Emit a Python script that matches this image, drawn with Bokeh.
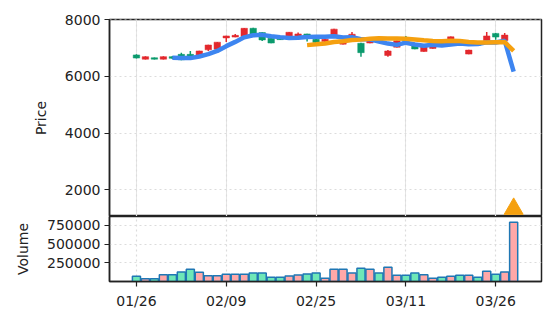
import pandas as pd
from bokeh.plotting import figure
from bokeh.layouts import column
from bokeh.models import (ColumnDataSource, Range1d, FixedTicker, NumeralTickFormatter,
                          Grid, CustomJSTickFormatter)
from bokeh.embed import file_html
from bokeh.resources import INLINE

# ---- data ----
tick_idx = [0, 10, 20, 30, 40]
tick_labels = ["01/26", "02/09", "02/25", "03/11", "03/26"]

opens = [6760, 6610, 6660, 6610, 6700, 6780, 6780, 6720, 6940, 6960,
         7360, 7390, 7410, 7700, 7550, 7350, 7380, 7390, 7410, 7500,
         7310, 7230, 7470, 7140, 7410, 7170, 7180, 7350, 6740, 7030,
         7350, 7150, 6880, 6990, 7200, 7270, 7230, 6790, 7130, 7270,
         7520, 7270, 1420]
highs = [6780, 6710, 6670, 6710, 6720, 6840, 6900, 6910, 7120, 7220,
         7440, 7500, 7710, 7720, 7560, 7360, 7390, 7570, 7550, 7510,
         7320, 7320, 7680, 7270, 7570, 7190, 7300, 7360, 6930, 7270,
         7430, 7160, 7060, 7080, 7210, 7410, 7240, 6940, 7210, 7570,
         7530, 7530, 1500]
lows = [6630, 6600, 6600, 6600, 6620, 6570, 6690, 6710, 6900, 6950,
        7220, 7380, 7400, 7460, 7250, 7170, 7290, 7380, 7400, 7230,
        7190, 7220, 7460, 7130, 7400, 6700, 7170, 7270, 6700, 7020,
        7220, 6960, 6870, 6980, 7120, 7260, 7140, 6780, 7120, 7260,
        7300, 7260, 1380]
closes = [6650, 6700, 6610, 6700, 6640, 6590, 6700, 6900, 7110, 7210,
          7430, 7450, 7700, 7470, 7290, 7180, 7300, 7560, 7500, 7430,
          7200, 7310, 7670, 7260, 7490, 6840, 7290, 7280, 6900, 7260,
          7230, 6970, 7050, 7070, 7130, 7400, 7150, 6930, 7100, 7430,
          7390, 7460, 1460]
volumes = [70000, 38000, 38000, 91000, 91000, 127000, 163000, 124000, 78000, 78000,
           96000, 96000, 96000, 114000, 114000, 56000, 56000, 74000, 87000, 100000,
           114000, 43000, 163000, 163000, 114000, 177000, 163000, 114000, 190000, 83000,
           83000, 114000, 91000, 43000, 56000, 70000, 83000, 83000, 56000, 137000,
           96000, 127000, 794000]
signal_idx = [42]
signal_price = [1330]

UP = "#e3282d"
DOWN = "#0b9a6d"
VUP = "#ffa8a8"
VDOWN = "#6ee7b7"
FONT = "DejaVu Sans"
FS = "14px"

n = len(closes)
df = pd.DataFrame({"i": list(range(n)), "open": opens, "high": highs, "low": lows,
                   "close": closes, "volume": volumes})
df["top"] = df[["open", "close"]].max(axis=1)
df["bottom"] = df[["open", "close"]].min(axis=1)
df["color"] = [UP if c >= o else DOWN for o, c in zip(opens, closes)]
df["vcolor"] = [VUP if c >= o else VDOWN for o, c in zip(opens, closes)]
df["ma5"] = df["close"].rolling(5).mean()
df["ma20"] = df["close"].rolling(20).mean()
src = ColumnDataSource(df)

xr = Range1d(-3.0, 45.1)

def style(p):
    p.outline_line_color = "#222222"
    p.outline_line_width = 1.5
    p.background_fill_color = "white"
    p.border_fill_color = "white"
    for ax in p.yaxis:
        ax.axis_line_color = "#222222"
        ax.axis_line_width = 1.5
        ax.major_tick_line_color = "#222222"
        ax.major_tick_line_width = 1.2
        ax.major_tick_out = 5
        ax.major_tick_in = 0
        ax.minor_tick_line_color = None
        ax.major_label_text_font = FONT
        ax.major_label_text_font_size = FS
        ax.major_label_text_color = "#222222"
        ax.axis_label_text_font = FONT
        ax.axis_label_text_font_size = FS
        ax.axis_label_text_font_style = "normal"
        ax.axis_label_text_color = "#222222"
        ax.major_label_standoff = 4
        ax.axis_label_standoff = 13

grid_kw = dict(grid_line_color="#dcdcdc", grid_line_dash="2 3", grid_line_width=1.2)

# ---- price panel ----
p1 = figure(width=556, height=216, x_range=xr, y_range=Range1d(1060, 8010),
            output_backend="svg", toolbar_location=None, x_axis_location=None,
            min_border_left=109, min_border_right=15, min_border_top=19, min_border_bottom=0)
style(p1)
p1.yaxis.ticker = FixedTicker(ticks=[2000, 4000, 6000, 8000])
p1.yaxis.formatter = NumeralTickFormatter(format="0")
p1.yaxis.axis_label = "Price"
for g in p1.ygrid:
    g.update(**grid_kw)
p1.add_layout(Grid(dimension=0, ticker=FixedTicker(ticks=tick_idx), **grid_kw))

p1.segment(x0="i", y0="low", x1="i", y1="high", color="color", line_width=1.5, source=src)
p1.vbar(x="i", top="top", bottom="bottom", width=0.72, fill_color="color",
        line_color="color", line_width=0.5, source=src)
p1.line(x="i", y="ma5", color="#3d85f0", line_width=4.5, source=src)
p1.line(x="i", y="ma20", color="#f5a00f", line_width=4.5, source=src)
p1.scatter(x=signal_idx, y=signal_price, marker="triangle", size=19,
           fill_color="#f5a00f", line_color="#f5a00f")

# ---- volume panel ----
p2 = figure(width=556, height=110, x_range=xr, y_range=Range1d(0, 870000),
            output_backend="svg", toolbar_location=None,
            min_border_left=109, min_border_right=15, min_border_top=0, min_border_bottom=45)
style(p2)
p2.yaxis.ticker = FixedTicker(ticks=[250000, 500000, 750000])
p2.yaxis.formatter = NumeralTickFormatter(format="0")
p2.yaxis.axis_label = "Volume"
for g in p2.grid:
    g.update(**grid_kw)
p2.xaxis.ticker = FixedTicker(ticks=tick_idx)
p2.xaxis.formatter = CustomJSTickFormatter(
    args=dict(labels=dict(zip([str(t) for t in tick_idx], tick_labels))),
    code="return labels[String(tick)] || '';")
xa = p2.xaxis[0]
xa.axis_line_color = "#222222"
xa.axis_line_width = 1.5
xa.major_tick_line_color = "#222222"
xa.major_tick_line_width = 1.2
xa.major_tick_out = 5
xa.major_tick_in = 0
xa.minor_tick_line_color = None
xa.major_label_text_font = FONT
xa.major_label_text_font_size = FS
xa.major_label_text_color = "#222222"
xa.major_label_standoff = 6

p2.vbar(x="i", top="volume", bottom=0, width=0.9, fill_color="vcolor",
        line_color="#1f77b4", line_width=1.5, source=src)

layout = column(p1, p2, spacing=0)
open("out.html", "w").write(file_html(layout, INLINE))
